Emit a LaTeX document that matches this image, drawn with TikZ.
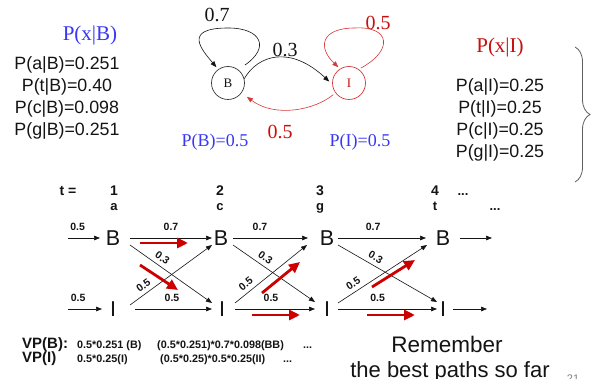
\documentclass[tikz,border=0pt]{standalone}
\usepackage{fontspec}
\setmainfont{Liberation Serif}
\setsansfont{Liberation Sans}
\usetikzlibrary{arrows.meta,decorations.pathreplacing}
\newcommand\setfs[2]{\fontsize{#1}{#2}\selectfont}
\definecolor{ink}{RGB}{20,20,20}
\definecolor{probblue}{RGB}{55,55,245}
\definecolor{islred}{RGB}{200,15,15}
\definecolor{loopred}{RGB}{215,55,55}
\definecolor{bestred}{RGB}{205,0,0}
\definecolor{bracegray}{RGB}{95,95,95}

\begin{document}
\begin{tikzpicture}[x=1pt,y=-1pt,
  every node/.style={inner sep=0pt},
  hmmstate/.style={circle,draw=ink!85,line width=0.7pt,minimum size=33pt,font=\rmfamily\setfs{13}{13},text=ink},
  emis/.style={font=\sffamily\setfs{17.8}{21.8},align=center,text=ink},
  serifbig/.style={font=\rmfamily\setfs{20}{20}},
  trel/.style={font=\sffamily\setfs{21.5}{21.5},text=ink},
  link/.style={draw=ink,line width=0.6pt,-{Triangle[length=6pt,width=4.6pt]}},
  bestpath/.style={draw=bestred,line width=2.8pt,-{Triangle[length=11pt,width=10pt]}},
  wlab/.style={font=\sffamily\bfseries\setfs{10.5}{10.5},text=ink,inner sep=1pt},
  colhead/.style={font=\sffamily\bfseries\setfs{14}{14},text=ink,anchor=base},
  sym/.style={font=\sffamily\bfseries\setfs{13}{13},text=ink,anchor=base},
  vp/.style={font=\sffamily\bfseries\setfs{15}{15},text=ink,anchor=base west},
  vpterm/.style={font=\sffamily\bfseries\setfs{10.8}{10.8},text=ink,anchor=base west},
]
\fill[white] (0,0) rectangle (593,379);
\useasboundingbox (0,0) rectangle (593,379);

% ---------- emission probabilities ----------
\node[font=\rmfamily\setfs{21}{21},text=probblue] (pxb) at (90,35) {P(x|B)};
\node[emis] (embB) at (67,98) {P(a|B)=0.251\\P(t|B)=0.40\\P(c|B)=0.098\\P(g|B)=0.251};
\node[font=\rmfamily\setfs{21}{21},text=islred] (pxi) at (500,47) {P(x|I)};
\node[emis] (embI) at (500,120) {P(a|I)=0.25\\P(t|I)=0.25\\P(c|I)=0.25\\P(g|I)=0.25};
\draw[bracegray,line width=0.8pt,decorate,decoration={brace,amplitude=15pt}] (575,47) -- (575,182);

% ---------- two-state model ----------
\node[hmmstate] (B) at (228,83) {B};
\node[hmmstate,draw=loopred,text=islred] (I) at (349,83) {I};

\draw[link] ([shift={(6,-5)}]B.50) .. controls (270,48) and (262,28) .. (228,28)
  .. controls (182,28) and (202,50) .. ([shift={(-2,-2)}]B.125);
\node[serifbig,text=ink] (p07) at (217,15) {0.7};

\draw[link] (B.15) .. controls (258,55) and (290,45) .. ([shift={(-3,0)}]I.175);
\node[serifbig,text=ink] (p03) at (285,50) {0.3};

\draw[link,draw=loopred] ([shift={(1,-2)}]I.50) .. controls (394,50) and (390,26) .. (355,28)
  .. controls (320,28) and (318,48) .. ([shift={(-1,-2)}]I.125);
\node[serifbig,text=islred] (p05a) at (378,23) {0.5};

\draw[link,draw=loopred] ([shift={(-2,2)}]I.215) .. controls (315,110) and (275,118) .. ([shift={(6,3)}]B.320);
\node[serifbig,text=islred] (p05b) at (280,132) {0.5};

\node[font=\rmfamily\setfs{18}{18},text=probblue] (piB) at (215,142) {P(B)=0.5};
\node[font=\rmfamily\setfs{18}{18},text=probblue] (piI) at (360,142) {P(I)=0.5};

% ---------- trellis ----------
\node[colhead] (tlab) at (68,196) {t =};
\node[colhead] (t1) at (114,196) {1};
\node[colhead] (t2) at (220,196) {2};
\node[colhead] (t3) at (320,196) {3};
\node[colhead] (t4) at (435,196) {4};
\node[sym] (dots1) at (463,196) {...};
\node[sym] (x1) at (114,211) {a};
\node[sym] (x2) at (220,211) {c};
\node[sym] (x3) at (320,211) {g};
\node[sym] (x4) at (435,211) {t};
\node[sym] (dots2) at (495,211) {...};

\node[trel] (B1) at (113,238) {B};
\node[trel] (B2) at (221,238) {B};
\node[trel] (B3) at (327,238) {B};
\node[trel] (B4) at (443,238) {B};
\node[trel] (I1) at (113,309) {I};
\node[trel] (I2) at (222,309) {I};
\node[trel] (I3) at (327,309) {I};
\node[trel] (I4) at (443,309) {I};

\coordinate (inB) at (68,238);
\coordinate (inI) at (68,309);
\coordinate (outB) at (492,238);
\coordinate (outI) at (487,309);

% start probabilities
\draw[link] (inB) -- node[pos=0.3,above=6.5pt,wlab] {0.5} ([shift={(-13,0)}]B1.center);
\draw[link] (inI) -- node[pos=0.3,above=6.5pt,wlab] {0.5} ([shift={(-11,0)}]I1.center);

% B -> B
\draw[link] ([shift={(17,0)}]B1.center) -- node[pos=0.5,above=6.5pt,wlab] {0.7} ([shift={(-9,0)}]B2.center);
\draw[link] ([shift={(12,0)}]B2.center) -- node[pos=0.36,above=6.5pt,wlab] {0.7} ([shift={(-19,0)}]B3.center);
\draw[link] ([shift={(11,0)}]B3.center) -- node[pos=0.4,above=6.5pt,wlab] {0.7} ([shift={(-17,0)}]B4.center);
\draw[link] ([shift={(17,0)}]B4.center) -- (outB);

% B -> I
\draw[link] ([shift={(17,7)}]B1.center) -- node[pos=0.34,sloped,above=3pt,wlab] {0.3} ([shift={(-10,-6)}]I2.center);
\draw[link] ([shift={(12,7)}]B2.center) -- node[pos=0.34,sloped,above=3pt,wlab] {0.3} ([shift={(-12,-7)}]I3.center);
\draw[link] ([shift={(11,7)}]B3.center) -- node[pos=0.34,sloped,above=3pt,wlab] {0.3} ([shift={(-6,-7)}]I4.center);

% I -> B
\draw[link] ([shift={(17,-4)}]I1.center) -- node[pos=0.22,sloped,above=3pt,wlab] {0.5} ([shift={(-9,7)}]B2.center);
\draw[link] ([shift={(13,-6)}]I2.center) -- node[pos=0.22,sloped,above=3pt,wlab] {0.5} ([shift={(-20,7)}]B3.center);
\draw[link] ([shift={(11,-6)}]I3.center) -- node[pos=0.22,sloped,above=3pt,wlab] {0.5} ([shift={(-16,7)}]B4.center);

% I -> I
\draw[link] ([shift={(22,0)}]I1.center) -- node[pos=0.48,above=6.5pt,wlab] {0.5} ([shift={(-10,0)}]I2.center);
\draw[link] ([shift={(13,0)}]I2.center) -- node[pos=0.45,above=6.5pt,wlab] {0.5} ([shift={(-12,0)}]I3.center);
\draw[link] ([shift={(11,0)}]I3.center) -- node[pos=0.4,above=6.5pt,wlab] {0.5} ([shift={(-6,0)}]I4.center);
\draw[link] ([shift={(10,0)}]I4.center) -- (outI);

% best transitions so far
\draw[bestpath] ([shift={(27,5)}]B1.center) -- ([shift={(75,5)}]B1.center);
\draw[bestpath] ([shift={(27,27)}]B1.center) -- ([shift={(65,52)}]B1.center);
\draw[bestpath] ([shift={(40,-16)}]I2.center) -- ([shift={(78,-47)}]I2.center);
\draw[bestpath] ([shift={(30,6)}]I2.center) -- ([shift={(78,6)}]I2.center);
\draw[bestpath] ([shift={(45,-22)}]I3.center) -- ([shift={(88,-49)}]I3.center);
\draw[bestpath] ([shift={(40,6)}]I3.center) -- ([shift={(88,6)}]I3.center);

% ---------- Viterbi values ----------
\node[vp] (vpB) at (22,348) {VP(B):};
\node[vpterm] (vpB1) at (77,348) {0.5*0.251 (B)};
\node[vpterm] (vpB2) at (157,348) {(0.5*0.251)*0.7*0.098(BB)};
\node[vpterm] (vpB3) at (303,348) {...};
\node[vp] (vpI) at (22,362) {VP(I)};
\node[vpterm] (vpI1) at (77,362) {0.5*0.25(I)};
\node[vpterm] (vpI2) at (160,362) {(0.5*0.25)*0.5*0.25(II)};
\node[vpterm] (vpI3) at (283,362) {...};

\node[font=\sffamily\setfs{22.5}{22.5},text=ink,anchor=base] (rem1) at (447,352) {Remember};
\node[font=\sffamily\setfs{22}{22},text=ink,anchor=base] (rem2) at (450,377.5) {the best paths so far};
\node[font=\sffamily\setfs{11}{11},text=gray,anchor=base] (pg) at (573,382) {21};
\end{tikzpicture}
\end{document}
